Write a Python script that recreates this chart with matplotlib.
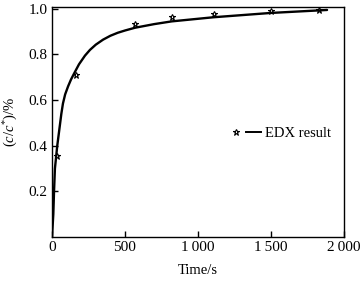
import matplotlib
matplotlib.use("Agg")
import matplotlib.pyplot as plt
from matplotlib.lines import Line2D
from matplotlib.legend_handler import HandlerTuple

# fitted curve
curve_t = [0, 9, 14, 20, 36, 50, 64, 75, 90, 110, 130, 150, 185, 226, 260, 300, 350,
           400, 450, 500, 568, 700, 820, 1105, 1500, 1884]
curve_y = [0, 0.1, 0.2, 0.3, 0.4, 0.47, 0.54, 0.585, 0.625, 0.66, 0.69, 0.715, 0.757,
           0.795, 0.82, 0.843, 0.865, 0.882, 0.895, 0.905, 0.917, 0.933, 0.945,
           0.963, 0.982, 0.995]

# EDX measured points
edx_t = [34, 164, 568, 822, 1110, 1500, 1829]
edx_y = [0.355, 0.71, 0.934, 0.963, 0.978, 0.991, 0.996]

xticks = [0, 500, 1000, 1500, 2000]
xticklabels = ["0", "500", "1\u2009000", "1\u2009500", "2\u2009000"]
yticks = [0.2, 0.4, 0.6, 0.8, 1.0]
yticklabels = ["0.2", "0.4", "0.6", "0.8", "1.0"]

plt.rcParams['font.family'] = ['Liberation Serif', 'DejaVu Serif']
plt.rcParams['mathtext.fontset'] = 'custom'
plt.rcParams['mathtext.rm'] = 'Liberation Serif'
plt.rcParams['mathtext.it'] = 'Liberation Serif:italic'

fig = plt.figure(figsize=(3.64, 2.86), dpi=100)
ax = fig.add_axes([52/364, 1-237/286, (344-52)/364, (237-7)/286])

ax.plot(curve_t, curve_y, color='black', lw=1.7, solid_capstyle='round',
        solid_joinstyle='round')
ax.plot(edx_t, edx_y, linestyle='none', marker='*', ms=5, mfc='none',
        mec='black', mew=0.8)

ax.set_xlim(0, 2000)
ax.set_ylim(0, 1.008)
ax.set_xticks(xticks)
ax.set_xticklabels(xticklabels)
ax.set_yticks(yticks)
ax.set_yticklabels(yticklabels)
ax.tick_params(direction='in', length=4, width=1, labelsize=11, pad=3,
               top=False, right=False)
for s in ax.spines.values():
    s.set_linewidth(1.0)

ax.set_xlabel("Time/s", fontsize=10.5, labelpad=7)
ax.set_ylabel(r"$(c/c^{*})$/%", fontsize=10.5, labelpad=6)

h_star = Line2D([], [], linestyle='none', marker='*', ms=4.5, mfc='none',
                mec='black', mew=0.8)
h_line = Line2D([], [], color='black', lw=1.4)
ax.legend([(h_star, h_line)], ["EDX result"],
          handler_map={tuple: HandlerTuple(ndivide=2, pad=0.2)},
          loc='center left', bbox_to_anchor=(0.585, 0.452), frameon=False,
          fontsize=10.5, handlelength=2.2, handletextpad=0.3,
          borderaxespad=0)

fig.savefig("out.png", dpi=100)
